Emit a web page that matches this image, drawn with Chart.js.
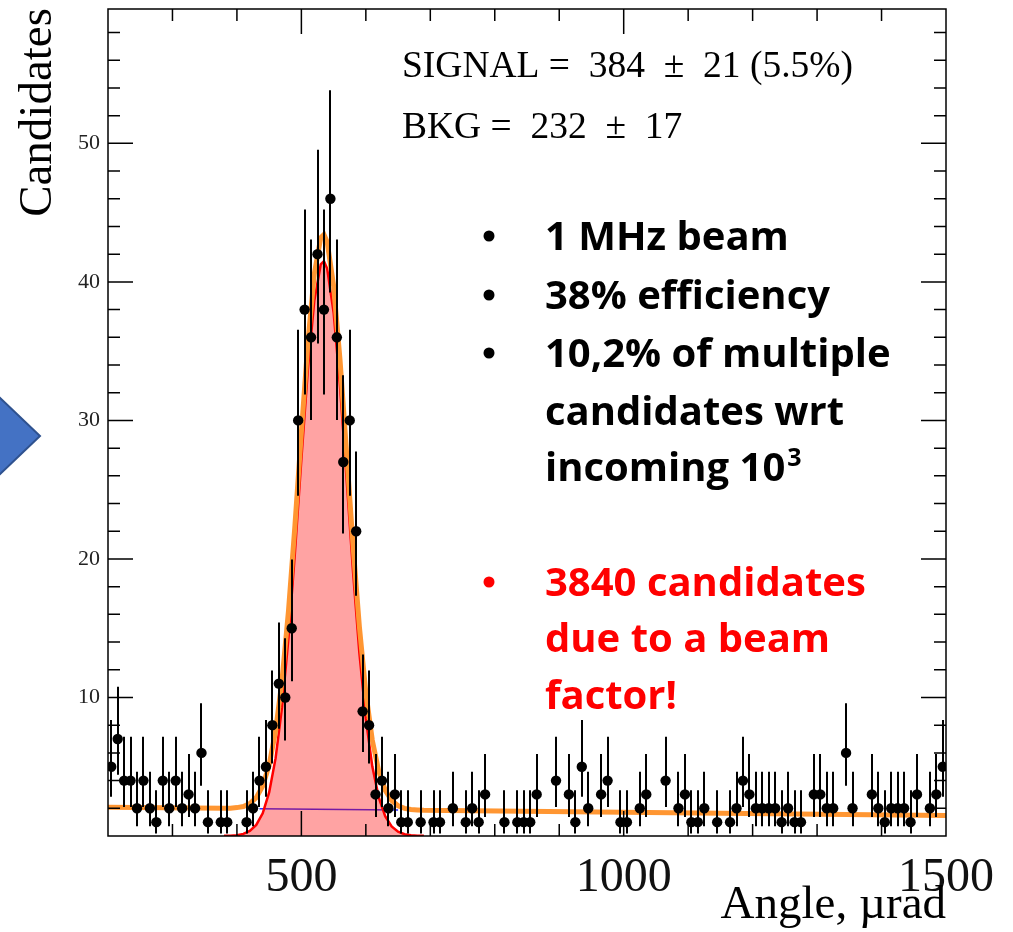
<!DOCTYPE html>
<html>
<head>
<meta charset="utf-8">
<script src="https://cdn.jsdelivr.net/npm/chart.js@4/dist/chart.umd.min.js"></script>
<style>
  html, body { margin: 0; padding: 0; background: #fff; }
  #wrap { position: relative; width: 1013px; height: 932px; }
  #arrow { position: absolute; left: 0; top: 0; }
</style>
</head>
<body>
<div id="wrap">
  <canvas id="c"></canvas>
  <svg id="arrow" width="60" height="932">
    <polygon points="-3,395 40,436 -3,477" fill="#4472c4" stroke="#2f528f" stroke-width="2"/>
  </svg>
</div>
<script>
// histogram: 10 urad bins from 200 to 1500
const binStart = 200;
const binWidth = 10;
const counts = [
  5, 7, 4, 4, 2, 4, 2, 1, 4, 2,
  4, 2, 3, 2, 6, 1, 0, 1, 1, 0,
  0, 1, 2, 4, 5, 8, 11, 10, 15, 30,
  38, 36, 42, 38, 46, 36, 27, 30, 22, 9,
  8, 3, 4, 2, 3, 1, 1, 0, 1, 0,
  1, 1, 0, 2, 0, 1, 2, 1, 3, 0,
  0, 1, 0, 1, 1, 1, 3, 0, 0, 4,
  0, 3, 1, 5, 2, 0, 3, 4, 0, 1,
  1, 0, 2, 3, 0, 0, 4, 0, 2, 3,
  1, 1, 2, 0, 1, 0, 1, 2, 4, 3,
  2, 2, 2, 2, 1, 2, 1, 1, 0, 3,
  3, 2, 2, 0, 6, 2, 0, 0, 3, 2,
  1, 2, 2, 2, 1, 3, 0, 2, 3, 5
];

// fit curves
const sigX = [380, 390, 400, 410, 420, 430, 440, 450, 460, 470, 480, 490, 500, 510, 520, 530, 535,
              540, 550, 560, 570, 580, 590, 600, 610, 620, 630, 640, 650, 660, 670, 680, 690];
const sigY = [0.01, 0.02, 0.06, 0.15, 0.36, 0.80, 1.64, 3.15, 5.62, 9.30, 14.31, 20.46, 27.21, 33.63, 38.63, 41.26, 41.49,
              40.96, 37.79, 32.42, 25.85, 19.16, 13.20, 8.45, 5.03, 2.79, 1.43, 0.69, 0.31, 0.13, 0.05, 0.02, 0.01];
const totX = [200, 380, 390, 400, 410, 420, 430, 440, 450, 460, 470, 480, 490, 500, 510, 520, 530, 535,
              540, 550, 560, 570, 580, 590, 600, 610, 620, 630, 640, 650, 660, 670, 680, 690, 1500];
const totY = [2.08, 2.00, 2.01, 2.05, 2.13, 2.34, 2.77, 3.61, 5.12, 7.58, 11.26, 16.26, 22.41, 29.15, 35.57, 40.56, 43.19, 43.42,
              42.88, 39.71, 34.33, 27.76, 21.07, 15.10, 10.35, 6.92, 4.68, 3.31, 2.56, 2.18, 1.99, 1.91, 1.88, 1.86, 1.48];
const bkgX = [435, 650];
const bkgY = [1.97, 1.87];

const xTickLabels = [500, 1000, 1500];
const yTickLabels = [10, 20, 30, 40, 50];

// Poisson (Garwood) 68% interval, like ROOT's kPoisson errors
const ALPHA = 0.158655;
function poissonCdf(k, mu) {
  let term = Math.exp(-mu), sum = term;
  for (let i = 1; i <= k; i++) { term *= mu / i; sum += term; }
  return sum;
}
function upperLimit(n) {
  let lo = n, hi = n + 20 + 6 * Math.sqrt(n + 1);
  for (let i = 0; i < 80; i++) {
    const mid = (lo + hi) / 2;
    if (poissonCdf(n, mid) > ALPHA) lo = mid; else hi = mid;
  }
  return (lo + hi) / 2;
}
function lowerLimit(n) {
  if (n === 0) return 0;
  let lo = 0, hi = n;
  for (let i = 0; i < 80; i++) {
    const mid = (lo + hi) / 2;
    if (poissonCdf(n - 1, mid) > 1 - ALPHA) lo = mid; else hi = mid;
  }
  return (lo + hi) / 2;
}

const points = [];
counts.forEach((n, i) => {
  if (n === 0) return;
  points.push({ x: binStart + binWidth * i + binWidth / 2, y: n, lo: lowerLimit(n), hi: upperLimit(n) });
});
const zip = (xs, ys) => xs.map((x, i) => ({ x, y: ys[i] }));

const errorBars = {
  id: 'errorBars',
  beforeDatasetDraw(chart, args) {
    if (args.index !== 0) return;
    const { ctx, chartArea: a, scales: { x, y } } = chart;
    ctx.save();
    ctx.beginPath();
    ctx.rect(a.left, a.top, a.right - a.left, a.bottom - a.top);
    ctx.clip();
    ctx.strokeStyle = '#000';
    ctx.lineWidth = 2;
    ctx.beginPath();
    points.forEach(p => {
      const px = Math.round(x.getPixelForValue(p.x));
      ctx.moveTo(px, y.getPixelForValue(p.lo));
      ctx.lineTo(px, y.getPixelForValue(p.hi));
    });
    ctx.stroke();
    ctx.restore();
  }
};

const frame = {
  id: 'frame',
  afterDatasetsDraw(chart) {
    const { ctx, chartArea: a, scales: { x, y } } = chart;
    ctx.save();
    ctx.strokeStyle = '#000';
    ctx.lineWidth = 1.5;
    ctx.beginPath();
    for (let v = 300; v < 1500; v += 100) {
      const px = x.getPixelForValue(v);
      const len = v % 500 === 0 ? 25 : 12;
      ctx.moveTo(px, a.bottom); ctx.lineTo(px, a.bottom - len);
      ctx.moveTo(px, a.top); ctx.lineTo(px, a.top + len);
    }
    for (let v = 2; v < 60; v += 2) {
      const py = y.getPixelForValue(v);
      if (py < a.top + 2) continue;
      const len = v % 10 === 0 ? 25 : 12;
      ctx.moveTo(a.left, py); ctx.lineTo(a.left + len, py);
      ctx.moveTo(a.right, py); ctx.lineTo(a.right - len, py);
    }
    ctx.stroke();
    ctx.strokeRect(a.left, a.top, a.right - a.left, a.bottom - a.top);
    ctx.restore();
  }
};

const notes = {
  id: 'notes',
  afterDraw(chart) {
    const { ctx, chartArea: a } = chart;
    ctx.save();
    ctx.fillStyle = '#000';
    ctx.textBaseline = 'alphabetic';

    // axis titles
    ctx.font = '47px "Liberation Serif", "Times New Roman", serif';
    ctx.textAlign = 'right';
    ctx.fillText('Angle, \u00b5rad', a.right, 918);
    ctx.save();
    ctx.translate(51, 8);
    ctx.rotate(-Math.PI / 2);
    ctx.fillText('Candidates', 0, 0);
    ctx.restore();

    // fit results
    ctx.textAlign = 'left';
    ctx.font = '37.5px "Liberation Serif", "Times New Roman", serif';
    ctx.fillText('SIGNAL =  384  \u00b1  21 (5.5%)', 402, 77);
    ctx.fillText('BKG =  232  \u00b1  17', 402, 138);

    // bullets
    const lines = [
      { t: '1 MHz beam', y: 250, b: true, c: '#000' },
      { t: '38% efficiency', y: 309, b: true, c: '#000' },
      { t: '10,2% of multiple', y: 367, b: true, c: '#000' },
      { t: 'candidates wrt', y: 425, b: false, c: '#000' },
      { t: 'incoming 10', y: 481, b: false, c: '#000', sup: '3' },
      { t: '3840 candidates', y: 596, b: true, c: '#ff0000' },
      { t: 'due to a beam', y: 652, b: false, c: '#ff0000' },
      { t: 'factor!', y: 709, b: false, c: '#ff0000' }
    ];
    const main = 'bold 40px "Open Sans", sans-serif';
    ctx.font = main;
    lines.forEach(l => {
      ctx.fillStyle = l.c;
      if (l.b) {
        ctx.beginPath();
        ctx.arc(489, l.y - 14, 5.5, 0, Math.PI * 2);
        ctx.fill();
      }
      ctx.fillText(l.t, 545, l.y);
      if (l.sup) {
        const w = ctx.measureText(l.t).width;
        ctx.font = 'bold 25px "Open Sans", sans-serif';
        ctx.fillText(l.sup, 545 + w + 2, l.y - 15);
        ctx.font = main;
      }
    });
    ctx.restore();
  }
};

new Chart(document.getElementById('c'), {
  type: 'scatter',
  data: {
    datasets: [
      {
        label: 'data',
        data: points,
        pointRadius: 5.2,
        pointHoverRadius: 5.2,
        pointBackgroundColor: '#000',
        pointBorderWidth: 0,
        showLine: false,
        order: 0
      },
      {
        type: 'line',
        label: 'total fit',
        data: zip(totX, totY),
        borderColor: 'rgb(255,150,50)',
        borderWidth: 5,
        pointRadius: 0,
        fill: false,
        order: 1
      },
      {
        type: 'line',
        label: 'signal',
        data: zip(sigX, sigY),
        borderColor: '#ff0000',
        borderWidth: 2.5,
        pointRadius: 0,
        fill: 'origin',
        backgroundColor: 'rgba(255,0,0,0.36)',
        order: 2
      },
      {
        type: 'line',
        label: 'background',
        data: zip(bkgX, bkgY),
        borderColor: '#2a2aff',
        borderWidth: 1.5,
        pointRadius: 0,
        fill: false,
        order: 3
      }
    ]
  },
  options: {
    responsive: true,
    maintainAspectRatio: false,
    animation: false,
    events: [],
    layout: { padding: { top: 9, right: 67, left: 0, bottom: 0 } },
    plugins: { legend: { display: false }, tooltip: { enabled: false } },
    scales: {
      x: {
        type: 'linear',
        min: 200,
        max: 1500,
        grid: { display: false, drawTicks: false },
        border: { display: false },
        ticks: {
          stepSize: 100,
          autoSkip: false,
          maxRotation: 0,
          padding: 14,
          color: '#111',
          font: { family: '"Liberation Serif", "Times New Roman", serif', size: 48 },
          callback: v => xTickLabels.includes(v) ? String(v) : ''
        },
        afterFit(s) { s.height = 96; s.paddingLeft = 0; s.paddingRight = 0; }
      },
      y: {
        min: 0,
        max: 59.7,
        grid: { display: false, drawTicks: false },
        border: { display: false },
        ticks: {
          stepSize: 10,
          padding: 8,
          color: '#222',
          font: { family: '"Liberation Serif", "Times New Roman", serif', size: 22 },
          callback: v => yTickLabels.includes(v) ? String(v) : ''
        },
        afterFit(s) { s.width = 108; s.paddingTop = 0; s.paddingBottom = 0; }
      }
    }
  },
  plugins: [errorBars, frame, notes]
});
</script>
</body>
</html>
